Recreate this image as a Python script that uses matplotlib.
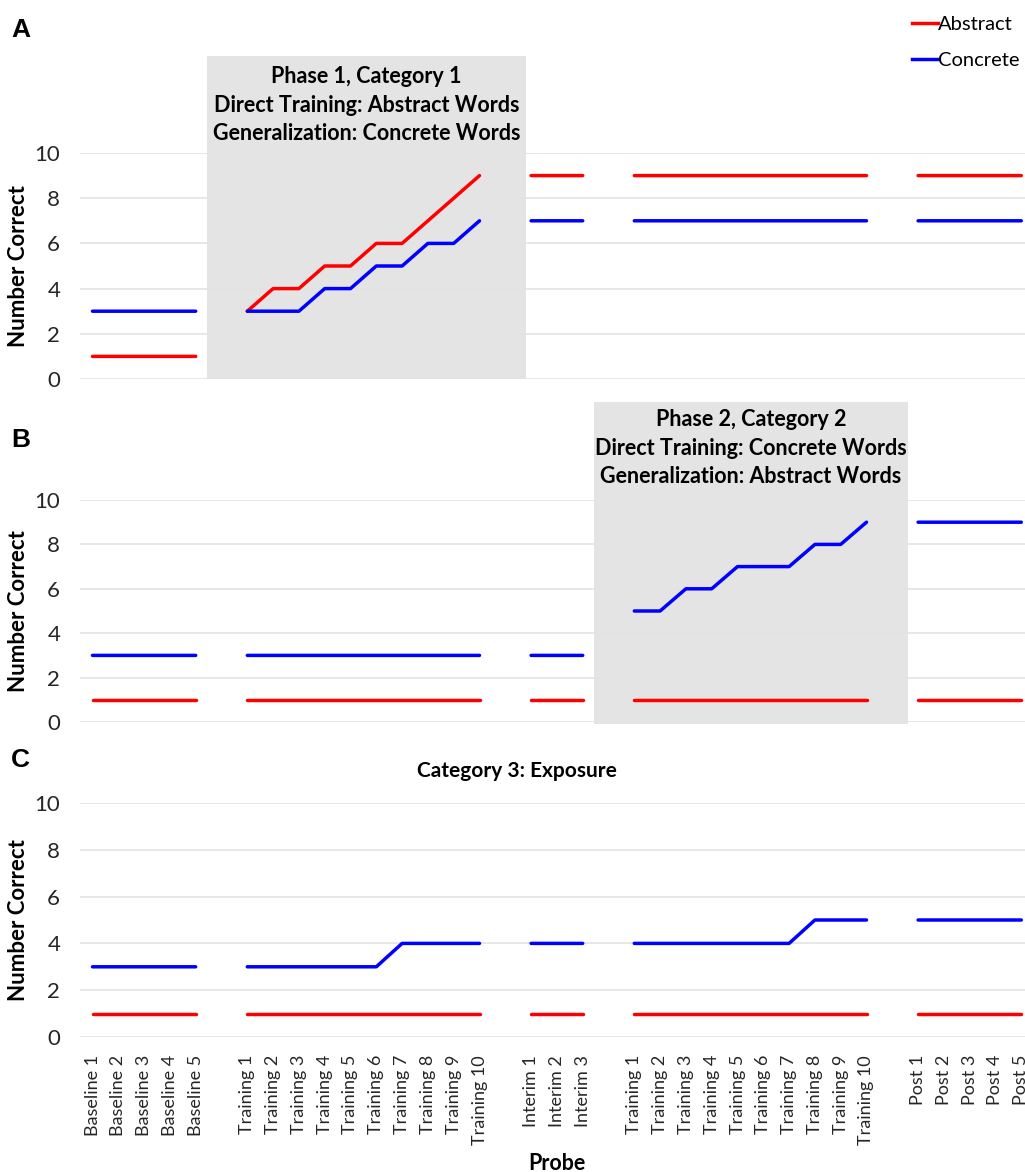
import numpy as np
import matplotlib
matplotlib.use("Agg")
import matplotlib.pyplot as plt
from matplotlib.patches import Rectangle
from matplotlib.lines import Line2D

# ---------------- data ----------------
categories = ["Baseline 1", "Baseline 2", "Baseline 3", "Baseline 4", "Baseline 5", "",
              "Training 1", "Training 2", "Training 3", "Training 4", "Training 5",
              "Training 6", "Training 7", "Training 8", "Training 9", "Training 10", "",
              "Interim 1", "Interim 2", "Interim 3", "",
              "Training 1", "Training 2", "Training 3", "Training 4", "Training 5",
              "Training 6", "Training 7", "Training 8", "Training 9", "Training 10", "",
              "Post 1", "Post 2", "Post 3", "Post 4", "Post 5"]
N = None
a_abstract = [1, 1, 1, 1, 1, N, 3, 4, 4, 5, 5, 6, 6, 7, 8, 9, N, 9, 9, 9, N,
              9, 9, 9, 9, 9, 9, 9, 9, 9, 9, N, 9, 9, 9, 9, 9]
a_concrete = [3, 3, 3, 3, 3, N, 3, 3, 3, 4, 4, 5, 5, 6, 6, 7, N, 7, 7, 7, N,
              7, 7, 7, 7, 7, 7, 7, 7, 7, 7, N, 7, 7, 7, 7, 7]
b_abstract = [1, 1, 1, 1, 1, N, 1, 1, 1, 1, 1, 1, 1, 1, 1, 1, N, 1, 1, 1, N,
              1, 1, 1, 1, 1, 1, 1, 1, 1, 1, N, 1, 1, 1, 1, 1]
b_concrete = [3, 3, 3, 3, 3, N, 3, 3, 3, 3, 3, 3, 3, 3, 3, 3, N, 3, 3, 3, N,
              5, 5, 6, 6, 7, 7, 7, 8, 8, 9, N, 9, 9, 9, 9, 9]
c_abstract = [1, 1, 1, 1, 1, N, 1, 1, 1, 1, 1, 1, 1, 1, 1, 1, N, 1, 1, 1, N,
              1, 1, 1, 1, 1, 1, 1, 1, 1, 1, N, 1, 1, 1, 1, 1]
c_concrete = [3, 3, 3, 3, 3, N, 3, 3, 3, 3, 3, 3, 4, 4, 4, 4, N, 4, 4, 4, N,
              4, 4, 4, 4, 4, 4, 4, 5, 5, 5, N, 5, 5, 5, 5, 5]
series_names = ["Abstract", "Concrete"]
yticks = [0, 2, 4, 6, 8, 10]
box_a_text = "Phase 1, Category 1\nDirect Training: Abstract Words\nGeneralization: Concrete Words"
box_b_text = "Phase 2, Category 2\nDirect Training: Concrete Words\nGeneralization: Abstract Words"
title_c = "Category 3: Exposure"

# ---------------- style ----------------
FONT = ["Lato", "DejaVu Sans"]
plt.rcParams['font.family'] = FONT
RED = "#ff0000"
BLUE = "#0000ff"
GRID = "#e3e3e3"
BOXC = "#e4e4e4"
TXT = "#262626"

W, H = 1025, 1172
fig = plt.figure(figsize=(W / 100, H / 100), dpi=100)

def arr(v):
    return np.array([np.nan if x is None else x for x in v], dtype=float)

x = np.arange(len(categories))
left = 79.6 / W
width = 954.6 / W

def make_ax(top_px, bot_px):
    ax = fig.add_axes([left, 1 - bot_px / H, width, (bot_px - top_px) / H])
    ax.set_xlim(-0.5, len(categories) - 0.5)
    ax.set_ylim(0, 10)
    ax.set_yticks(yticks)
    ax.set_yticklabels([str(t) for t in yticks], fontsize=16, color=TXT)
    ax.tick_params(axis='both', length=0)
    ax.tick_params(axis='y', pad=14)
    for s in ax.spines.values():
        s.set_visible(False)
    ax.grid(axis='y', color=GRID, linewidth=1.2)
    ax.set_axisbelow(True)
    ax.set_ylabel("Number Correct", fontsize=16, fontweight='bold', color='black', labelpad=4)
    ax.set_xticks(x)
    ax.set_xticklabels([])
    return ax

axA = make_ax(153, 379)
axB = make_ax(500, 722)
axC = make_ax(803, 1037)

def draw(ax, ab, co):
    ax.plot(x, arr(ab), color=RED, lw=2.5, solid_capstyle='round', solid_joinstyle='round', zorder=3)
    ax.plot(x, arr(co), color=BLUE, lw=2.5, solid_capstyle='round', solid_joinstyle='round', zorder=3)

draw(axA, a_abstract, a_concrete)
draw(axB, b_abstract, b_concrete)
draw(axC, c_abstract, c_concrete)

# shaded phase boxes (annotation shapes)
axA.add_patch(Rectangle((4.44, 0), 12.36, 14.3, facecolor=BOXC, edgecolor='none',
                        clip_on=False, zorder=0.3))
axA.text(10.62, 12.12, box_a_text, ha='center', va='center', fontsize=15.5, fontweight='bold',
         linespacing=1.45, color='black')
axB.add_patch(Rectangle((19.44, -0.1), 12.16, 14.5, facecolor=BOXC, edgecolor='none',
                        clip_on=False, zorder=0.3))
axB.text(25.52, 12.34, box_b_text, ha='center', va='center', fontsize=15.5, fontweight='bold',
         linespacing=1.45, color='black')

fig.text(517 / W, 1 - 771 / H, title_c, fontsize=15, fontweight='bold', ha='center', va='center')

# x tick labels on bottom panel
axC.set_xticklabels(categories, rotation=90, fontsize=13, color=TXT, va='top')
axC.tick_params(axis='x', pad=13)
axC.set_xlabel("Probe", fontsize=15.5, fontweight='bold', labelpad=6)

# panel letters
for lab, ypx in [("A", 30), ("B", 440), ("C", 760)]:
    fig.text(11 / W, 1 - ypx / H, lab, fontsize=19, fontweight='bold',
             family=["Liberation Sans", "DejaVu Sans"], va='center', ha='left')

# legend
handles = [Line2D([], [], color=RED, lw=2.5), Line2D([], [], color=BLUE, lw=2.5)]
fig.legend(handles, series_names, loc='upper left', bbox_to_anchor=(912 / W, 1 - 16 / H),
           frameon=False, fontsize=14.5, handlelength=1.3, handletextpad=0.0,
           labelspacing=0.95, borderaxespad=0, borderpad=0)

fig.savefig("out.png", dpi=100)
